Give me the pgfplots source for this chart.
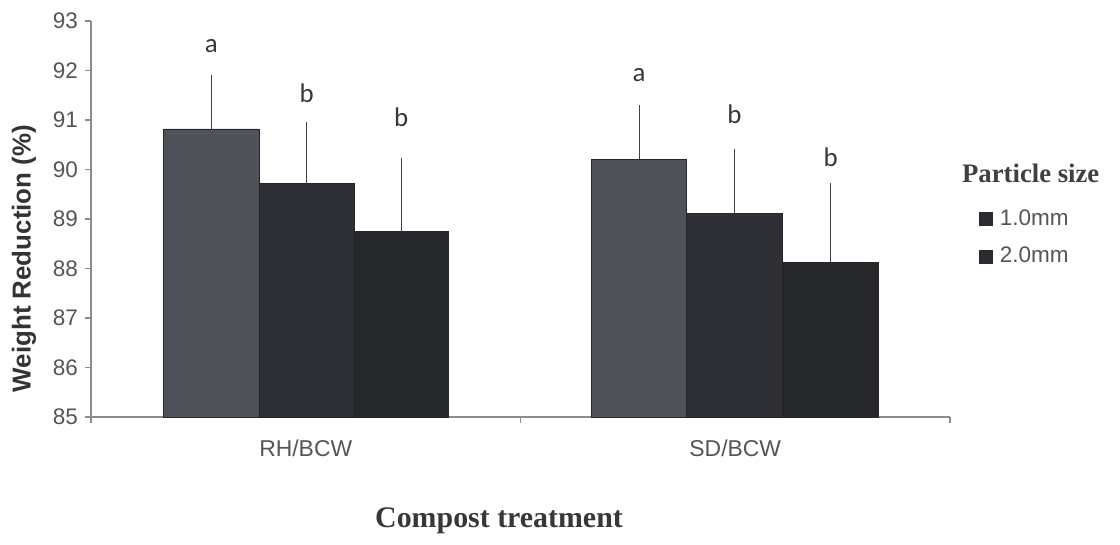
\documentclass[border=0pt]{standalone}
\usepackage{pgfplots}
\pgfplotsset{compat=1.18}
\usepackage{fontspec}
\setmainfont{Liberation Sans}
\newfontfamily\serifb{Liberation Serif}
\newfontfamily\calib{Carlito}
\definecolor{barA}{RGB}{80,82,89}
\definecolor{barB}{RGB}{46,48,53}
\definecolor{barC}{RGB}{38,40,44}
\definecolor{legsq}{RGB}{42,44,50}
\definecolor{ticktxt}{RGB}{85,85,88}
\definecolor{axgray}{RGB}{140,140,140}
\definecolor{lettxt}{RGB}{55,55,58}
\begin{document}
\begin{tikzpicture}
\useasboundingbox (-45.5bp,-64bp) rectangle (514.5bp,208.5bp);
\begin{axis}[
  scale only axis,
  width=429.5bp, height=198bp,
  xmin=0, xmax=2, ymin=85, ymax=93,
  ytick={85,86,...,93},
  xtick={0,1,2}, xticklabels={},
  extra x ticks={0.5,1.5},
  extra x tick labels={RH/BCW,SD/BCW},
  extra x tick style={major tick length=0pt, xticklabel style={yshift=-8bp, font=\fontsize{11.5}{13}\selectfont}},
  axis lines=left,
  axis line style={-, draw=axgray, line width=0.6bp},
  tick align=outside,
  major tick length=3bp,
  tick style={draw=axgray, line width=0.6bp},
  /pgf/number format/assume math mode=true,
  ticklabel style={font=\fontsize{11.3}{13}\selectfont, text=ticktxt},
  ylabel={Weight Reduction (\%)},
  ylabel style={at={(rel axis cs:-0.078,0.40)}, anchor=center, rotate=0, font=\fontsize{13}{15}\bfseries\selectfont, text=black!80},
  xlabel={Compost treatment},
  xlabel style={at={(rel axis cs:0.475,-0.262)}, anchor=center, font=\fontsize{15}{18}\serifb\bfseries\selectfont, text=black!78},
  clip=false,
  legend style={at={(rel axis cs:1.033,0.535)}, anchor=north west, draw=none, fill=none, inner sep=0pt,
    font=\fontsize{11.3}{13}\selectfont, text=ticktxt, row sep=5.5bp,
    nodes={inner xsep=3.5bp}},
  legend cell align=left,
  legend image code/.code={\fill[#1] (0bp,-3.5bp) rectangle (7bp,3.5bp);},
]
\addplot[forget plot, ybar, bar width=0.222, bar shift=0, fill=barA, draw=black!85, line width=0.4bp,
  error bars/.cd, y dir=plus, y explicit, error mark=none,
  error bar style={draw=black!75, line width=0.5bp}]
  coordinates {(0.280,90.82) +- (0,1.09) (1.276,90.21) +- (0,1.09)};
\addplot[forget plot, ybar, bar width=0.222, bar shift=0, fill=barB, draw=black!85, line width=0.4bp,
  error bars/.cd, y dir=plus, y explicit, error mark=none,
  error bar style={draw=black!75, line width=0.5bp}]
  coordinates {(0.502,89.71) +- (0,1.24) (1.498,89.12) +- (0,1.29)};
\addplot[forget plot, ybar, bar width=0.222, bar shift=0, fill=barC, draw=black!85, line width=0.4bp,
  error bars/.cd, y dir=plus, y explicit, error mark=none,
  error bar style={draw=black!75, line width=0.5bp}]
  coordinates {(0.722,88.74) +- (0,1.49) (1.722,88.13) +- (0,1.60)};
\addlegendimage{fill=legsq, draw=none}
\addlegendentry{1.0mm}
\addlegendimage{fill=legsq, draw=none}
\addlegendentry{2.0mm}
\begin{scope}[every node/.style={font=\fontsize{13.5}{15}\calib\selectfont, text=lettxt, anchor=base}]
\node at (axis cs:0.280,92.37) {a};
\node at (axis cs:0.502,91.35) {b};
\node at (axis cs:0.722,90.86) {b};
\node at (axis cs:1.276,91.77) {a};
\node at (axis cs:1.498,90.92) {b};
\node at (axis cs:1.722,90.07) {b};
\end{scope}
\node[font=\fontsize{13.4}{16}\serifb\bfseries\selectfont, text=black!75, anchor=center] at (rel axis cs:1.094,0.616) {Particle size};
\end{axis}
\end{tikzpicture}
\end{document}
